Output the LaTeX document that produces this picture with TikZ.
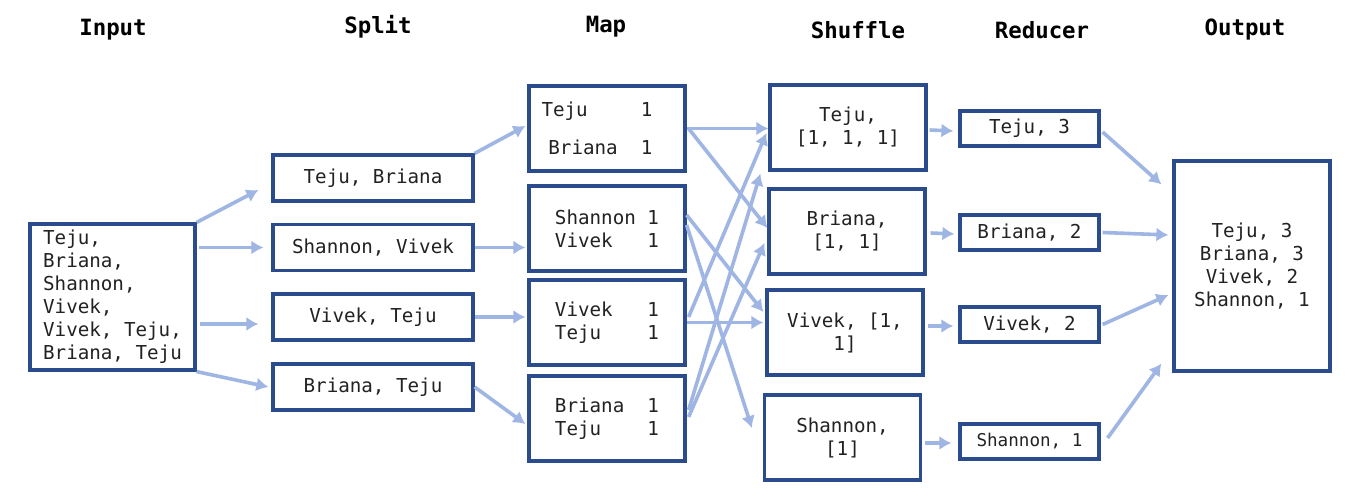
\documentclass[tikz,border=0pt]{standalone}
\usepackage{fontspec}
\setmonofont{DejaVu Sans Mono}
\usetikzlibrary{arrows.meta}
\definecolor{boxBlue}{HTML}{2B4C8C}
\definecolor{flowBlue}{HTML}{9FB5E3}
\definecolor{wordInk}{HTML}{222222}
\newcommand{\wordFont}[0]{\fontsize{9.6}{11.5}\selectfont\ttfamily}
\newcommand{\headFont}[0]{\fontsize{11.2}{13}\selectfont\ttfamily\bfseries}

\begin{document}
\begin{tikzpicture}[x=0.5pt, y=-0.5pt]
  \tikzset{
    stage/.style={font=\headFont, text=black},
    wordbox/.style={draw=boxBlue, line width=1.6pt, fill=white, inner sep=0pt,
      align=center, font=\wordFont, text=wordInk},
    inputbox/.style={wordbox, align=left, minimum width=82.5pt, minimum height=73pt},
    splitbox/.style={wordbox, minimum width=100pt, minimum height=23pt},
    mapbox/.style={wordbox, align=left, minimum width=78pt, minimum height=42.5pt},
    shufflebox/.style={wordbox, minimum width=78pt, minimum height=42.5pt},
    reducebox/.style={wordbox, minimum width=69.5pt, minimum height=17.5pt},
    outputbox/.style={wordbox, minimum width=78pt, minimum height=105pt},
    flow/.style={draw=flowBlue, line width=1.8pt, -{Latex[length=6pt,width=7pt]}}
  }
  \path[fill=white] (0,0) rectangle (1365,496);
  \useasboundingbox (0,0) rectangle (1365,496);

  \node[stage] (hIn)  at (113,30)  {Input};
  \node[stage] (hSp)  at (378,27)  {Split};
  \node[stage] (hMap) at (606,27)  {Map};
  \node[stage] (hSh)  at (858,30)  {Shuffle};
  \node[stage] (hRed) at (1042,30) {Reducer};
  \node[stage] (hOut) at (1245,30) {Output};

  \node[inputbox] (in) at (112.5,297)
    {Teju,\\Briana,\\Shannon,\\Vivek,\\Vivek, Teju,\\Briana, Teju};

  \node[splitbox] (sp1) at (373,178)   {Teju, Briana};
  \node[splitbox] (sp2) at (373,247.5) {Shannon, Vivek};
  \node[splitbox] (sp3) at (373,317)   {Vivek, Teju};
  \node[splitbox] (sp4) at (373,387)   {Briana, Teju};

  \node[mapbox] (map1) at (607,128.5)
    {Teju\hspace{2.77em}1\hspace*{10pt}\\[7.5pt]\hspace*{0.36em}Briana\ \ 1};
  \node[mapbox] (map2) at (607,228.5) {Shannon 1\\Vivek\ \ \ 1};
  \node[mapbox] (map3) at (607,322.5) {Vivek\ \ \ 1\\Teju\ \ \ \ 1};
  \node[mapbox] (map4) at (607,418.5) {Briana\ \ 1\\Teju\ \ \ \ 1};

  \node[shufflebox] (shuf1) at (848,127.5)   {Teju,\\{[1, 1, 1]}};
  \node[shufflebox] (shuf2) at (847,231.5)   {Briana,\\{[1, 1]}};
  \node[shufflebox] (shuf3) at (845,332.5)   {Vivek, [1,\\1]};
  \node[shufflebox] (shuf4) at (842.5,437.5) {Shannon,\\{[1]}};

  \node[reducebox] (red1) at (1029.5,128.5) {Teju, 3};
  \node[reducebox] (red2) at (1029.5,232.5) {Briana, 2};
  \node[reducebox] (red3) at (1029.5,324.5) {Vivek, 2};
  \node[reducebox, font=\fontsize{8.8}{10.5}\selectfont\ttfamily] (red4) at (1029.5,441.5) {Shannon, 1};

  \node[outputbox] (out) at (1252,266) {Teju, 3\\Briana, 3\\Vivek, 2\\Shannon, 1};

  \draw[flow] (in.north east) -- ([xshift=-6.5pt,yshift=-6pt]sp1.west);
  \draw[flow] ([xshift=1pt]in.east |- sp2.west) -- ([xshift=-4pt]sp2.west);
  \draw[flow] ([xshift=1.5pt,yshift=-3.5pt]in.east |- sp3.west) -- ([xshift=-6.5pt,yshift=-3.5pt]sp3.west);
  \draw[flow] (in.south east) -- ([xshift=-1.5pt]sp4.west);

  \draw[flow] (sp1.north east) -- ([xshift=-1pt,yshift=1.25pt]map1.west);
  \draw[flow] (sp2.east) -- ([xshift=-1pt]map2.west |- sp2.east);
  \draw[flow] (sp3.east) -- ([xshift=-1pt]map3.west |- sp3.east);
  \draw[flow] (sp4.east) -- ([xshift=-1pt,yshift=-2.75pt]map4.west);

  \draw[flow] (map1.east) -- (shuf1.west |- map1.east);
  \draw[flow] ([xshift=1pt]map1.east) -- ([yshift=1.75pt]shuf2.west);
  \draw[flow] ([yshift=6.75pt]map2.east) -- ([xshift=-1pt,yshift=10.25pt]shuf3.west);
  \draw[flow] ([yshift=1.75pt]map2.east) -- ([xshift=-5.5pt,yshift=4.75pt]shuf4.west);
  \draw[flow] (map3.east) -- ([xshift=-1pt]shuf3.west |- map3.east);
  \draw[flow] ([xshift=1pt,yshift=2.75pt]map3.east) -- ([xshift=-1pt,yshift=-2.75pt]shuf1.west);
  \draw[flow] ([xshift=1pt,yshift=4.25pt]map4.east) -- ([xshift=-4pt,yshift=-1pt]shuf1.south west);
  \draw[flow] ([xshift=1pt,yshift=0.75pt]map4.east) -- ([xshift=-1.5pt,yshift=-5.75pt]shuf2.west);

  \draw[flow] ([xshift=1pt,yshift=-1.25pt]shuf1.east) -- ([xshift=-2.5pt,yshift=-1.25pt]red1.west);
  \draw[flow] ([xshift=2pt,yshift=-0.75pt]shuf2.east) -- ([xshift=-2pt,yshift=-0.75pt]red2.west);
  \draw[flow] ([xshift=1.5pt,yshift=-0.75pt]shuf3.east |- red3.west) -- ([xshift=-2.5pt,yshift=-0.75pt]red3.west);
  \draw[flow] ([xshift=1.5pt,yshift=-0.75pt]shuf4.east |- red4.west) -- ([xshift=-3.5pt,yshift=-0.75pt]red4.west);

  \draw[flow] ([xshift=1pt,yshift=-1.75pt]red1.east) -- ([xshift=-5.5pt,yshift=-12.5pt]out.north west);
  \draw[flow] ([xshift=1pt]red2.east) -- ([xshift=-2pt,yshift=15.5pt]out.west);
  \draw[flow] ([xshift=1pt]red3.east) -- ([xshift=-2pt,yshift=-14.5pt]out.west);
  \draw[flow] ([xshift=3.5pt,yshift=1.75pt]red4.east) -- ([xshift=-5.5pt,yshift=4.5pt]out.south west);
\end{tikzpicture}
\end{document}
